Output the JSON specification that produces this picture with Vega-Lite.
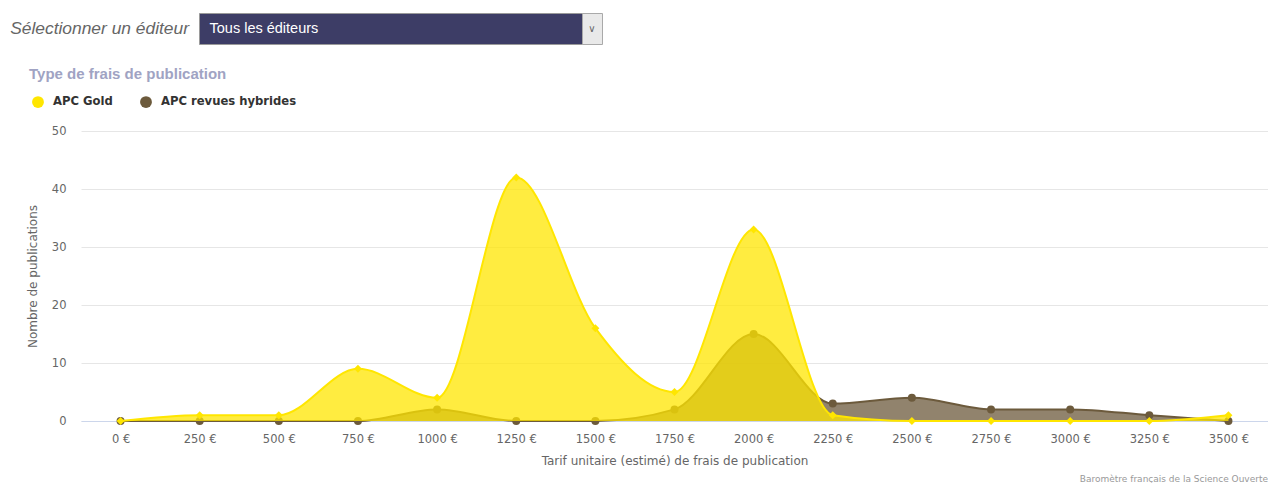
{
  "$schema": "https://vega.github.io/schema/vega-lite/v6.json",
  "background": "white",
  "autosize": {"type": "pad"},
  "padding": {"left": 10, "top": 12, "right": 0, "bottom": 0},
  "bounds": "flush",
  "spacing": 118,
  "resolve": {"scale": {"color": "independent"}, "legend": {"color": "independent"}},
  "config": {
    "view": {"stroke": null},
    "font": "DejaVu Sans"
  },
  "datasets": {
    "frais": [
      {"tarif": 0, "type": "APC Gold", "n": 0},
      {"tarif": 250, "type": "APC Gold", "n": 1},
      {"tarif": 500, "type": "APC Gold", "n": 1},
      {"tarif": 750, "type": "APC Gold", "n": 9},
      {"tarif": 1000, "type": "APC Gold", "n": 4},
      {"tarif": 1250, "type": "APC Gold", "n": 42},
      {"tarif": 1500, "type": "APC Gold", "n": 16},
      {"tarif": 1750, "type": "APC Gold", "n": 5},
      {"tarif": 2000, "type": "APC Gold", "n": 33},
      {"tarif": 2250, "type": "APC Gold", "n": 1},
      {"tarif": 2500, "type": "APC Gold", "n": 0},
      {"tarif": 2750, "type": "APC Gold", "n": 0},
      {"tarif": 3000, "type": "APC Gold", "n": 0},
      {"tarif": 3250, "type": "APC Gold", "n": 0},
      {"tarif": 3500, "type": "APC Gold", "n": 1},
      {"tarif": 0, "type": "APC revues hybrides", "n": 0},
      {"tarif": 250, "type": "APC revues hybrides", "n": 0},
      {"tarif": 500, "type": "APC revues hybrides", "n": 0},
      {"tarif": 750, "type": "APC revues hybrides", "n": 0},
      {"tarif": 1000, "type": "APC revues hybrides", "n": 2},
      {"tarif": 1250, "type": "APC revues hybrides", "n": 0},
      {"tarif": 1500, "type": "APC revues hybrides", "n": 0},
      {"tarif": 1750, "type": "APC revues hybrides", "n": 2},
      {"tarif": 2000, "type": "APC revues hybrides", "n": 15},
      {"tarif": 2250, "type": "APC revues hybrides", "n": 3},
      {"tarif": 2500, "type": "APC revues hybrides", "n": 4},
      {"tarif": 2750, "type": "APC revues hybrides", "n": 2},
      {"tarif": 3000, "type": "APC revues hybrides", "n": 2},
      {"tarif": 3250, "type": "APC revues hybrides", "n": 1},
      {"tarif": 3500, "type": "APC revues hybrides", "n": 0}
    ]
  },
  "vconcat": [
    {
      "hconcat": [
        {
          "width": 118,
          "height": 31,
          "data": {"values": [{"label": "Sélectionner un éditeur"}]},
          "mark": {"type": "text", "align": "right", "baseline": "middle", "dx": 49, "font": "Liberation Sans", "fontStyle": "italic", "fontSize": 17.4, "color": "#666666"},
          "encoding": {"text": {"field": "label"}}
        },
        {
          "width": 383,
          "height": 31,
          "view": {"fill": "#3d3d66", "stroke": "#9a9a9a", "strokeWidth": 1},
          "data": {"values": [{"label": "Tous les éditeurs"}]},
          "mark": {"type": "text", "align": "left", "baseline": "middle", "dx": -181, "font": "Liberation Sans", "fontSize": 14.5, "color": "#ffffff"},
          "encoding": {"text": {"field": "label"}}
        },
        {
          "width": 20,
          "height": 31,
          "view": {"fill": "#e9e9e9", "stroke": "#a9a9a9", "strokeWidth": 1},
          "data": {"values": [{"label": "∨"}]},
          "mark": {"type": "text", "align": "center", "baseline": "middle", "font": "DejaVu Sans", "fontSize": 10, "color": "#666666"},
          "encoding": {"text": {"field": "label"}}
        }
      ],
      "spacing": 0,
      "bounds": "flush"
    },
    {
      "width": 1187,
      "height": 290,
      "title": {"text": "Baromètre français de la Science Ouverte", "orient": "bottom", "anchor": "end", "frame": "group", "fontSize": 9, "fontWeight": "normal", "color": "#999999", "font": "DejaVu Sans", "offset": 8},
      "data": {"name": "frais"},
      "encoding": {
        "x": {
          "field": "tarif", "type": "quantitative",
          "scale": {"domain": [-125, 3625], "nice": false, "zero": false},
          "axis": {
            "title": "Tarif unitaire (estimé) de frais de publication",
            "values": [0, 250, 500, 750, 1000, 1250, 1500, 1750, 2000, 2250, 2500, 2750, 3000, 3250, 3500],
            "labelExpr": "datum.value + ' €'",
            "grid": false, "ticks": false,
            "domainColor": "#ccd6eb", "domainWidth": 1,
            "labelFont": "DejaVu Sans", "labelFontSize": 11.5, "labelColor": "#666666",
            "labelPadding": 12, "labelFlush": false, "labelOverlap": false,
            "titleFont": "DejaVu Sans", "titleFontSize": 12, "titleFontWeight": "normal", "titleColor": "#666666",
            "titlePadding": 11
          }
        },
        "y": {
          "field": "n", "type": "quantitative",
          "scale": {"domain": [0, 50], "nice": false},
          "axis": {
            "title": "Nombre de publications",
            "values": [0, 10, 20, 30, 40, 50],
            "grid": true, "gridColor": "#e6e6e6", "domain": false, "ticks": false,
            "labelFont": "DejaVu Sans", "labelFontSize": 11.5, "labelColor": "#666666", "labelPadding": 15,
            "titleFont": "DejaVu Sans", "titleFontSize": 12, "titleFontWeight": "normal", "titleColor": "#666666",
            "titleX": -49, "titleY": 145, "titleAngle": -90, "titleAlign": "center", "titleBaseline": "middle"
          }
        },
        "color": {
          "field": "type", "type": "nominal",
          "scale": {"domain": ["APC Gold", "APC revues hybrides"], "range": ["#ffe600", "#6c5a3c"]},
          "legend": {
            "title": "Type de frais de publication",
            "orient": "none", "legendX": -52, "legendY": -64,
            "direction": "horizontal",
            "titleFont": "Liberation Sans", "titleFontSize": 15, "titleFontWeight": "bold", "titleColor": "#a0a3c3", "titlePadding": 14, "titleLimit": 500,
            "labelFont": "DejaVu Sans", "labelFontSize": 11.6, "labelFontWeight": "bold", "labelColor": "#333333", "labelOffset": 9, "labelLimit": 300,
            "symbolType": "circle", "symbolSize": 140, "symbolOpacity": 1, "symbolStrokeWidth": 0, "symbolOffset": 3,
            "columnPadding": 24
          }
        }
      },
      "layer": [
        {
          "transform": [{"filter": "datum.type === 'APC revues hybrides'"}],
          "mark": {"type": "area", "interpolate": "monotone", "fillOpacity": 0.75, "line": {"strokeWidth": 2}}
        },
        {
          "transform": [{"filter": "datum.type === 'APC revues hybrides'"}],
          "mark": {"type": "point", "shape": "circle", "filled": true, "size": 64, "opacity": 1}
        },
        {
          "transform": [{"filter": "datum.type === 'APC Gold'"}],
          "mark": {"type": "area", "interpolate": "monotone", "fillOpacity": 0.75, "line": {"strokeWidth": 2}}
        },
        {
          "transform": [{"filter": "datum.type === 'APC Gold'"}],
          "mark": {"type": "point", "shape": "diamond", "filled": true, "size": 64, "opacity": 1}
        }
      ]
    }
  ]
}
